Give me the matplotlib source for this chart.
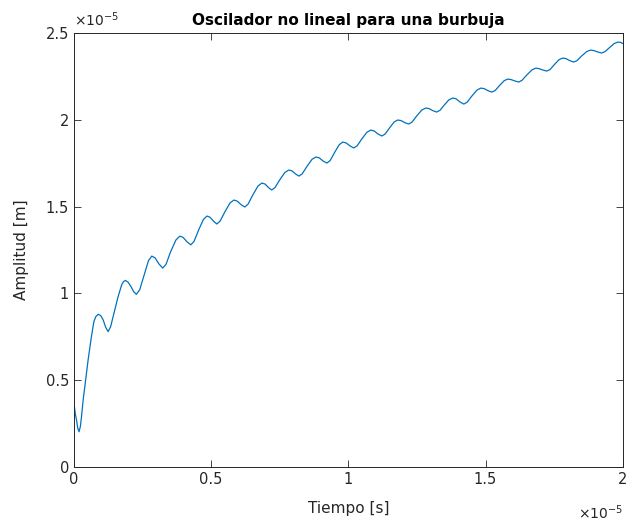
import matplotlib
matplotlib.use('Agg')
import matplotlib.pyplot as plt
import numpy as np

# tiempo y amplitud, en unidades de 1e-5
tiempo = [0.000, 0.005, 0.010, 0.014, 0.019, 0.024, 0.028, 0.034, 0.043, 0.052, 0.064, 0.073,
          0.080, 0.089, 0.098, 0.107, 0.116, 0.125, 0.134, 0.143, 0.152, 0.161, 0.174, 0.181,
          0.188, 0.198, 0.208, 0.218, 0.228,
          0.240, 0.256, 0.272, 0.284, 0.296, 0.310, 0.324,
          0.336, 0.352, 0.372, 0.386, 0.398, 0.412, 0.426,
          0.438, 0.454, 0.472, 0.485, 0.496, 0.509, 0.521,
          0.533, 0.550, 0.569, 0.583, 0.595, 0.609, 0.623,
          0.635, 0.652, 0.671, 0.685, 0.697, 0.709, 0.721,
          0.733, 0.750, 0.769, 0.783, 0.795, 0.808, 0.820,
          0.832, 0.849, 0.868, 0.882, 0.894, 0.908, 0.922,
          0.934, 0.950, 0.967, 0.980, 0.992, 1.006, 1.020,
          1.032, 1.049, 1.068, 1.082, 1.094, 1.108, 1.122,
          1.134, 1.150, 1.167, 1.180, 1.192, 1.206, 1.220,
          1.232, 1.249, 1.268, 1.282, 1.294, 1.308, 1.322,
          1.334, 1.350, 1.367, 1.381, 1.393, 1.407, 1.421,
          1.433, 1.450, 1.469, 1.483, 1.495, 1.509, 1.523,
          1.535, 1.551, 1.568, 1.581, 1.593, 1.607, 1.621,
          1.633, 1.650, 1.669, 1.683, 1.695, 1.709, 1.723,
          1.735, 1.751, 1.768, 1.781, 1.793, 1.807, 1.821,
          1.833, 1.850, 1.869, 1.883, 1.895, 1.909, 1.923,
          1.935, 1.952, 1.969, 1.982, 1.991, 2.000]
amplitud = [0.376, 0.310, 0.270, 0.225, 0.203, 0.235, 0.290, 0.386, 0.500, 0.616, 0.750, 0.837,
            0.866, 0.880, 0.872, 0.847, 0.805, 0.780, 0.808, 0.866, 0.925, 0.980, 1.048, 1.068,
            1.075, 1.064, 1.040, 1.010, 0.995,
            1.021, 1.105, 1.189, 1.215, 1.205, 1.170, 1.146,
            1.168, 1.238, 1.308, 1.330, 1.323, 1.298, 1.280,
            1.300, 1.363, 1.426, 1.446, 1.439, 1.416, 1.400,
            1.417, 1.469, 1.521, 1.538, 1.532, 1.512, 1.498,
            1.515, 1.567, 1.619, 1.636, 1.630, 1.610, 1.596,
            1.610, 1.654, 1.697, 1.711, 1.706, 1.688, 1.676,
            1.689, 1.731, 1.773, 1.786, 1.781, 1.763, 1.751,
            1.766, 1.812, 1.857, 1.872, 1.867, 1.850, 1.838,
            1.850, 1.890, 1.929, 1.941, 1.936, 1.919, 1.907,
            1.918, 1.953, 1.988, 1.999, 1.996, 1.984, 1.976,
            1.987, 2.022, 2.057, 2.068, 2.065, 2.053, 2.045,
            2.055, 2.086, 2.116, 2.126, 2.121, 2.103, 2.091,
            2.102, 2.137, 2.172, 2.183, 2.180, 2.168, 2.160,
            2.169, 2.198, 2.226, 2.235, 2.232, 2.224, 2.218,
            2.228, 2.258, 2.288, 2.298, 2.295, 2.287, 2.281,
            2.290, 2.319, 2.347, 2.356, 2.353, 2.341, 2.333,
            2.341, 2.368, 2.394, 2.402, 2.399, 2.391, 2.385,
            2.393, 2.417, 2.440, 2.448, 2.447, 2.440]

xticks = [0, 0.5, 1, 1.5, 2]
yticks = [0, 0.5, 1, 1.5, 2, 2.5]

gris = (0.15, 0.15, 0.15)
fig = plt.figure(figsize=(6.31, 5.25), dpi=100)
ax = fig.add_axes([0.117, 0.1105, 0.870, 0.8265])
ax.plot(tiempo, amplitud, color=(0, 0.447, 0.741), lw=0.9)

ax.set_xlim(0, 2)
ax.set_ylim(0, 2.5)
ax.set_xticks(xticks)
ax.set_yticks(yticks)
ax.set_xticklabels([('%g' % v) for v in xticks])
ax.set_yticklabels([('%g' % v) for v in yticks])
ax.tick_params(direction='in', length=5, width=0.6, top=True, right=True,
               labelsize=10.5, colors=gris, labelcolor=gris)
for s in ax.spines.values():
    s.set_color(gris)
    s.set_linewidth(0.7)

ax.set_title('Oscilador no lineal para una burbuja', fontsize=11, fontweight='bold', pad=6)
ax.set_xlabel('Tiempo [s]', fontsize=11, color=gris, labelpad=10)
ax.set_ylabel('Amplitud [m]', fontsize=11, color=gris, labelpad=12)
ax.text(0.0, 1.01, r'$\times10^{-5}$', transform=ax.transAxes, fontsize=10, color=gris,
        ha='left', va='bottom')
ax.text(1.0, -0.085, r'$\times10^{-5}$', transform=ax.transAxes, fontsize=10, color=gris,
        ha='right', va='top')

fig.savefig('out.png', dpi=100)
